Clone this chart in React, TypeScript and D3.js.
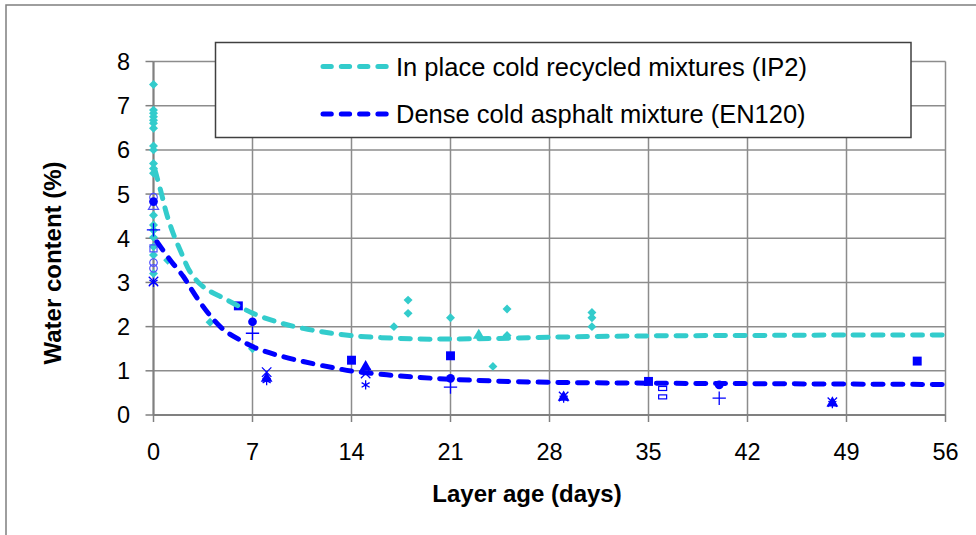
import React from "react";
import * as d3 from "d3";

// ---------- data ----------
const xTicks = [0, 7, 14, 21, 28, 35, 42, 49, 56];
const yTicks = [0, 1, 2, 3, 4, 5, 6, 7, 8];

const legendLabels = [
  "In place cold recycled mixtures (IP2)",
  "Dense cold asphalt mixture (EN120)",
];

// trend lines [day, water %]
const ip2Trend: [number, number][] = [
  [0.1, 5.55], [0.57, 5.0], [0.92, 4.56], [1.39, 4.11], [1.98, 3.66], [2.57, 3.25],
  [3.27, 2.97], [4.0, 2.8], [4.92, 2.65], [5.87, 2.49], [7.04, 2.3], [8.7, 2.11],
  [10.58, 1.96], [13.9, 1.8], [18.8, 1.72], [21, 1.72], [24, 1.73], [28, 1.76],
  [35, 1.79], [42, 1.8], [49, 1.81], [56, 1.81],
];
const en120Trend: [number, number][] = [
  [0.24, 3.92], [1.27, 3.47], [2.1, 3.14], [2.57, 2.9], [3.27, 2.56], [3.98, 2.26],
  [4.92, 1.94], [6.1, 1.7], [7.28, 1.51], [8.7, 1.36], [10.58, 1.21], [12.7, 1.07],
  [14.1, 0.99], [16.5, 0.91], [18.8, 0.85], [21, 0.81], [24, 0.77], [28, 0.74],
  [35, 0.72], [42, 0.71], [49, 0.7], [56, 0.69],
];

// IP2 measurements (cyan diamonds)
const ip2Points: [number, number][] = [
  [0, 7.48], [0, 6.9], [0, 6.83], [0, 6.75], [0, 6.67], [0, 6.6], [0, 6.49],
  [0, 6.09], [0, 6.0], [0, 5.69], [0, 5.58], [0, 5.47], [0, 4.52], [0, 4.3],
  [0, 4.18], [0, 4.02], [0, 3.81], [0, 3.62], [0, 3.2],
  [1, 3.5], [4, 2.1], [7, 1.5], [17, 2.0], [18, 2.6], [18, 2.3], [21, 2.2],
  [24, 1.1], [25, 2.4], [25, 1.8], [31, 2.32], [31, 2.2], [31, 2.0],
];
const ip2Triangles: [number, number][] = [[23, 1.8]];

// EN120 measurements (blue, several marker types)
const enSquares: [number, number][] = [[6, 2.47], [14, 1.24], [21, 1.34], [35, 0.76], [54, 1.22]];
const enCircles: [number, number][] = [[0, 4.83], [7, 2.11], [21, 0.83], [40, 0.68]];
const enPlus: [number, number][] = [[0, 4.19], [7, 1.85], [21, 0.63], [40, 0.38]];
const enCrosses: [number, number][] = [[0, 3.02], [8, 0.97], [15, 0.94], [29, 0.42], [48, 0.29]];
const enTriangles: [number, number][] = [[8, 0.83], [15, 1.09], [29, 0.4], [48, 0.27]];
const enAsterisks: [number, number][] = [[0, 3.0], [8, 0.78], [15, 0.68], [29, 0.38], [48, 0.26]];
const enDashes: [number, number][] = [[36, 0.6], [36, 0.41]];
const enOpenCircles: [number, number][] = [[0, 4.93], [0, 3.45], [0, 3.32]];
const enOpenTriangles: [number, number][] = [[0, 4.72]];
const enOpenSquares: [number, number][] = [[0, 3.77]];

// ---------- styling ----------
const W = 976;
const H = 535;
const CYAN = "#33CCCC";
const BLUE = "#0000FF";
const GRID = "#8c8c8c";
const FONT = "Arial, 'Liberation Sans', Helvetica, sans-serif";

export default function App() {
  const x = d3.scaleLinear().domain([0, 56]).range([153.5, 945.5]);
  const y = d3.scaleLinear().domain([0, 8]).range([415, 61.5]);

  const line = d3
    .line<[number, number]>()
    .x((d) => x(d[0]))
    .y((d) => y(d[1]))
    .curve(d3.curveCatmullRom.alpha(0.5));

  const sym = (type: d3.SymbolType, size: number) => d3.symbol().type(type).size(size)() || "";

  const diamond = sym(d3.symbolSquare, 40);
  const square = sym(d3.symbolSquare, 80);
  const circle = sym(d3.symbolCircle, 60);
  const tri = sym(d3.symbolTriangle, 60);
  const plus = sym(d3.symbolPlus, 60);
  const times = sym(d3.symbolTimes, 60);
  const aster = sym(d3.symbolAsterisk, 60);

  const pts = (
    data: [number, number][],
    path: string,
    opts: { fill?: string; stroke?: string; sw?: number; rot?: number },
    key: string
  ) =>
    data.map((d, i) => (
      <path
        key={key + i}
        d={path}
        transform={`translate(${x(d[0])},${y(d[1])})${opts.rot ? ` rotate(${opts.rot})` : ""}`}
        fill={opts.fill ?? "none"}
        stroke={opts.stroke ?? "none"}
        strokeWidth={opts.sw ?? 1}
      />
    ));

  const ml = 215.5, mt = 42.5, mw = 695.5, mh = 95;

  return (
    <svg
      width={W}
      height={H}
      style={{ position: "absolute", left: 0, top: 0, background: "#fff" }}
      fontFamily={FONT}
    >
      <rect x={0} y={0} width={W} height={H} fill="#fff" />
      {/* outer chart border */}
      <rect x={6} y={5} width={W + 10} height={H + 10} fill="none" stroke="#7f7f7f" strokeWidth={1.5} />

      {/* gridlines */}
      {yTicks.map((t) => (
        <line key={"gy" + t} x1={x(0)} x2={x(56)} y1={y(t)} y2={y(t)} stroke={GRID} strokeWidth={1.5} />
      ))}
      {xTicks.map((t) => (
        <line key={"gx" + t} x1={x(t)} x2={x(t)} y1={y(0)} y2={y(8)} stroke={GRID} strokeWidth={1.5} />
      ))}

      {/* axes */}
      <line x1={x(0)} x2={x(0)} y1={y(0)} y2={y(8)} stroke="#808080" strokeWidth={2} />
      <line x1={x(0)} x2={x(56)} y1={y(0)} y2={y(0)} stroke="#808080" strokeWidth={2} />
      {yTicks.map((t) => (
        <line key={"ty" + t} x1={x(0) - 8} x2={x(0)} y1={y(t)} y2={y(t)} stroke="#808080" strokeWidth={1.5} />
      ))}
      {xTicks.map((t) => (
        <line key={"tx" + t} x1={x(t)} x2={x(t)} y1={y(0)} y2={y(0) + 7} stroke="#808080" strokeWidth={1.5} />
      ))}

      {/* tick labels */}
      {yTicks.map((t) => (
        <text key={"ly" + t} x={130} y={y(t)} dy="0.36em" textAnchor="end" fontSize={23.5} fill="#000">
          {t}
        </text>
      ))}
      {xTicks.map((t) => (
        <text key={"lx" + t} x={x(t)} y={452} dy="0.36em" textAnchor="middle" fontSize={23.5} fill="#000">
          {t}
        </text>
      ))}

      {/* axis titles */}
      <text x={527} y={493} dy="0.36em" textAnchor="middle" fontSize={24} fontWeight="bold" fill="#000">
        Layer age (days)
      </text>
      <text
        transform={`translate(52,263) rotate(-90)`}
        dy="0.36em"
        textAnchor="middle"
        fontSize={24}
        fontWeight="bold"
        fill="#000"
      >
        Water content (%)
      </text>

      {/* markers */}
      {pts(ip2Points, diamond, { fill: CYAN, rot: 45 }, "ip")}
      {pts(ip2Triangles, tri, { fill: CYAN }, "ipt")}
      {pts(enOpenCircles, sym(d3.symbolCircle, 45), { stroke: "#5050ff", sw: 1.2 }, "oc")}
      {pts(enOpenTriangles, sym(d3.symbolTriangle, 45), { stroke: "#5050ff", sw: 1.2 }, "ot")}
      {pts(enOpenSquares, sym(d3.symbolSquare, 50), { stroke: "#5050ff", sw: 1.2 }, "os")}
      {pts(enSquares, square, { fill: BLUE }, "sq")}
      {pts(enCircles, circle, { fill: BLUE }, "ci")}
      {pts(enPlus, plus, { stroke: BLUE, sw: 1.3 }, "pl")}
      {pts(enCrosses, times, { stroke: BLUE, sw: 1.3 }, "cr")}
      {pts(enTriangles, tri, { fill: BLUE }, "tr")}
      {pts(enAsterisks, aster, { stroke: BLUE, sw: 1.3 }, "as")}
      {enDashes.map((d, i) => (
        <rect key={"da" + i} x={x(d[0]) - 4} y={y(d[1]) - 2} width={8} height={4} fill="#fff" stroke={BLUE} strokeWidth={1.2} />
      ))}

      {/* trend lines */}
      <path d={line(ip2Trend) || ""} fill="none" stroke={CYAN} strokeWidth={5} strokeDasharray="10 9.7" strokeLinecap="round" />
      <path d={line(en120Trend) || ""} fill="none" stroke={BLUE} strokeWidth={5} strokeDasharray="10 9.7" strokeLinecap="round" />

      {/* legend */}
      <rect x={ml} y={mt} width={mw} height={mh} fill="#fff" stroke="#404040" strokeWidth={1.5} />
      {legendLabels.map((lab, i) => {
        const ly = i === 0 ? 66.5 : 114;
        const col = i === 0 ? CYAN : BLUE;
        return (
          <g key={"lg" + i}>
            <line x1={323} x2={387} y1={ly} y2={ly} stroke={col} strokeWidth={5} strokeDasharray="8.3 10" strokeLinecap="round" />
            <text x={396} y={ly} dy="0.36em" fontSize={25.5} fill="#000">
              {lab}
            </text>
          </g>
        );
      })}
    </svg>
  );
}
